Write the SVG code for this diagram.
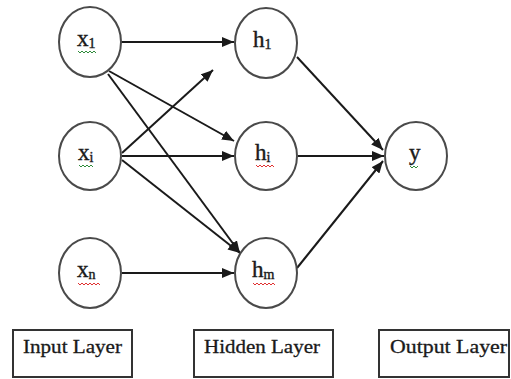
<svg xmlns="http://www.w3.org/2000/svg" width="511" height="379" viewBox="0 0 511 379">
  <style>
    .node { fill: #ffffff; stroke: #4a4a4a; stroke-width: 2; }
    .lbl { font-family: "Liberation Serif", "Times New Roman", serif; font-size: 23px; fill: #1a1a1a; stroke: #1a1a1a; stroke-width: 0.4; }
    .sub { font-size: 14px; }
    .edge { stroke: #1a1a1a; stroke-width: 2; fill: none; marker-end: url(#arrow); }
    .box { fill: #ffffff; stroke: #333333; stroke-width: 2; }
    .cap { font-family: "Liberation Serif", "Times New Roman", serif; font-size: 19px; fill: #1a1a1a; stroke: #1a1a1a; stroke-width: 0.3; }
    .sq-g { stroke: #2e8b3a; stroke-width: 1; fill: none; }
    .sq-r { stroke: #e03030; stroke-width: 1; fill: none; }
  </style>
  <defs>
    <marker id="arrow" viewBox="0 0 12 10" refX="12" refY="5" markerWidth="12" markerHeight="10" markerUnits="userSpaceOnUse" orient="auto">
      <path d="M0,0 L12,5 L0,10 Z" fill="#1a1a1a"/>
    </marker>
  </defs>

  <!-- connectors -->
  <g id="connectors">
    <line class="edge" x1="121" y1="42" x2="234" y2="42"/>
    <line class="edge" x1="109" y1="71" x2="234" y2="141"/>
    <line class="edge" x1="108" y1="74" x2="240" y2="253"/>
    <line class="edge" x1="122" y1="153" x2="213" y2="70"/>
    <line class="edge" x1="122" y1="156" x2="234" y2="156"/>
    <line class="edge" x1="122" y1="160" x2="240" y2="253"/>
    <line class="edge" x1="122" y1="273" x2="234" y2="273"/>
    <line class="edge" x1="297" y1="57" x2="383" y2="150"/>
    <line class="edge" x1="298" y1="156" x2="384" y2="156"/>
    <line class="edge" x1="297" y1="268" x2="383" y2="161"/>
  </g>

  <!-- input layer -->
  <g id="x1">
    <ellipse class="node" cx="90" cy="42" rx="31" ry="35"/>
    <text class="lbl" x="77" y="46">x<tspan class="sub" dy="2">1</tspan></text>
    <path class="sq-g" d="M78,51 l2,2 l2,-2 l2,2 l2,-2 l2,2 l2,-2 l2,2 l2,-2 l2,2"/>
  </g>
  <g id="xi">
    <ellipse class="node" cx="90" cy="156" rx="31" ry="34"/>
    <text class="lbl" x="78" y="160">x<tspan class="sub" dy="2">i</tspan></text>
    <path class="sq-g" d="M79,165 l2,2 l2,-2 l2,2 l2,-2 l2,2 l2,-2 l2,2"/>
  </g>
  <g id="xn">
    <ellipse class="node" cx="90" cy="273" rx="31" ry="35"/>
    <text class="lbl" x="77" y="277">x<tspan class="sub" dy="2">n</tspan></text>
    <path class="sq-r" d="M78,283 l2,2 l2,-2 l2,2 l2,-2 l2,2 l2,-2 l2,2 l2,-2 l2,2 l2,-2 l2,2"/>
  </g>

  <!-- hidden layer -->
  <g id="h1">
    <ellipse class="node" cx="266" cy="43" rx="31" ry="35"/>
    <text class="lbl" x="253" y="47">h<tspan class="sub" dy="2">1</tspan></text>
  </g>
  <g id="hi">
    <ellipse class="node" cx="266" cy="156" rx="31" ry="34"/>
    <text class="lbl" x="255" y="160">h<tspan class="sub" dy="2">i</tspan></text>
    <path class="sq-r" d="M256,165 l2,2 l2,-2 l2,2 l2,-2 l2,2 l2,-2 l2,2 l2,-2 l2,2"/>
  </g>
  <g id="hm">
    <ellipse class="node" cx="266" cy="273" rx="31" ry="35"/>
    <text class="lbl" x="252" y="277">h<tspan class="sub" dy="2">m</tspan></text>
    <path class="sq-r" d="M253,283 l2,2 l2,-2 l2,2 l2,-2 l2,2 l2,-2 l2,2 l2,-2 l2,2 l2,-2 l2,2"/>
  </g>

  <!-- output layer -->
  <g id="y">
    <ellipse class="node" cx="416" cy="156" rx="31" ry="34"/>
    <text class="lbl" x="409" y="160">y</text>
    <path class="sq-g" d="M410,166 l2,2 l2,-2 l2,2 l2,-2"/>
  </g>

  <!-- layer captions -->
  <g id="input-layer">
    <rect class="box" x="13" y="330" width="119" height="47"/>
    <text class="cap" x="23" y="353" textLength="99" lengthAdjust="spacingAndGlyphs">Input Layer</text>
  </g>
  <g id="hidden-layer">
    <rect class="box" x="194" y="330" width="139" height="47"/>
    <text class="cap" x="204" y="353" textLength="116" lengthAdjust="spacingAndGlyphs">Hidden Layer</text>
  </g>
  <g id="output-layer">
    <rect class="box" x="379" y="330" width="130" height="47"/>
    <text class="cap" x="390" y="353" textLength="117" lengthAdjust="spacingAndGlyphs">Output Layer</text>
  </g>
</svg>
